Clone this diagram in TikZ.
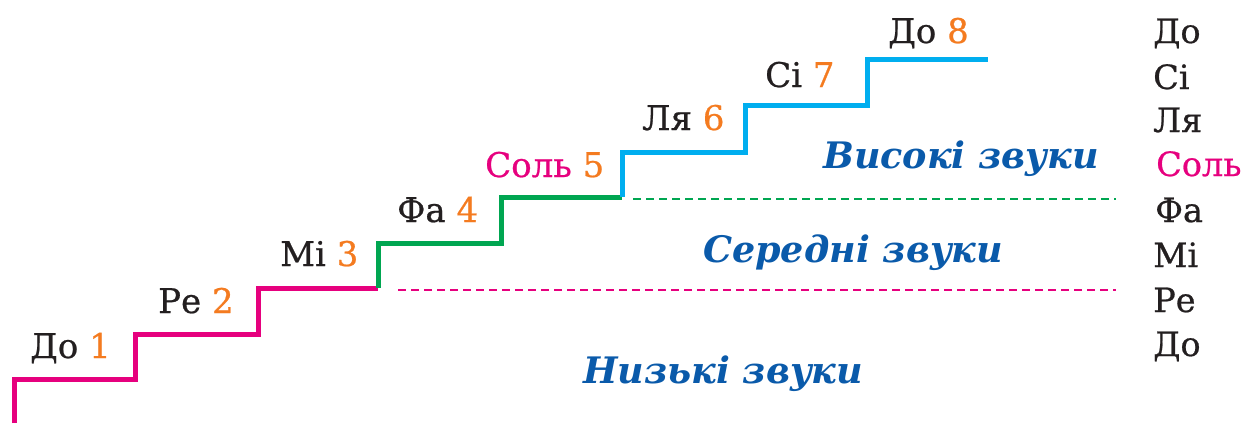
\documentclass[tikz,border=0pt]{standalone}
\usepackage{fontspec}
\setmainfont{DejaVu Serif}
\newfontfamily\heavyserif[FakeBold=0.7]{DejaVu Serif}
\definecolor{cpink}{HTML}{E6007E}
\definecolor{cgreen}{HTML}{00A651}
\definecolor{cblue}{HTML}{00AEEF}
\definecolor{corange}{HTML}{F47B20}
\definecolor{ctext}{HTML}{0A5AAA}
\definecolor{cdark}{HTML}{231F20}
\tikzset{
  stair/.style={line width=5pt, line join=miter},
  guide/.style={line width=2pt, dash pattern=on 8pt off 5pt},
  notelbl/.style={anchor=base west, inner sep=0pt, font=\heavyserif\fontsize{34}{34}\selectfont, text=cdark},
  scalelbl/.style={anchor=base west, inner sep=0pt, font=\heavyserif\fontsize{33.5}{33.5}\selectfont, text=cdark},
  zonelbl/.style={anchor=base west, inner sep=0pt, font=\fontsize{36.5}{36.5}\selectfont\bfseries\itshape, text=ctext},
}
\newcommand{\nm}[1]{\textcolor{corange}{#1}}
\begin{document}
\begin{tikzpicture}[x=1pt,y=-1pt]
\useasboundingbox (0,0) rectangle (1246,423);
% stair corners
\coordinate (b0) at (14,423);
\coordinate (p1) at (14,379);  \coordinate (q1) at (135,379);
\coordinate (p2) at (135,334); \coordinate (q2) at (258,334);
\coordinate (p3) at (258,288); \coordinate (q3) at (378,288);
\coordinate (p4) at (378,243); \coordinate (q4) at (501,243);
\coordinate (p5) at (501,197); \coordinate (q5) at (622,197);
\coordinate (p6) at (622,152); \coordinate (q6) at (745,152);
\coordinate (p7) at (745,105); \coordinate (q7) at (867,105);
\coordinate (p8) at (867,59);  \coordinate (q8) at (988,59);
\draw[stair, cpink] (b0) -- (p1) -- (q1) -- (p2) -- (q2) -- (p3) -- (q3);
\draw[stair, cgreen] (q3) -- (p4) -- (q4) -- (p5) -- (q5);
\draw[stair, cblue] (q5) -- (p6) -- (q6) -- (p7) -- (q7) -- (p8) -- (q8);
% guide lines
\coordinate (g1a) at (398,290); \coordinate (g1b) at (1116,290);
\coordinate (g2a) at (633,199); \coordinate (g2b) at (1116,199);
\draw[guide, cpink] (g1a) -- (g1b);
\draw[guide, cgreen] (g2a) -- (g2b);
% step labels
\node[notelbl] (n1) at (30,358) {До \nm{1}};
\node[notelbl] (n2) at (158,313) {Ре \nm{2}};
\node[notelbl] (n3) at (280,266) {Мі \nm{3}};
\node[notelbl] (n4) at (397,222) {Фа \nm{4}};
\node[notelbl] (n5) at (485,177) {\textcolor{cpink}{Соль} \nm{5}};
\node[notelbl] (n6) at (642,130) {Ля \nm{6}};
\node[notelbl] (n7) at (765,87) {Сі \nm{7}};
\node[notelbl] (n8) at (888,43) {До \nm{8}};
% right scale
\node[scalelbl] (r8) at (1153,43) {До};
\node[scalelbl] (r7) at (1153,89) {Сі};
\node[scalelbl] (r6) at (1153,132) {Ля};
\node[scalelbl, text=cpink] (r5) at (1156,176) {Соль};
\node[scalelbl] (r4) at (1155,222) {Фа};
\node[scalelbl] (r3) at (1153,267) {Мі};
\node[scalelbl] (r2) at (1153,312) {Ре};
\node[scalelbl] (r1) at (1153,356) {До};
% zone labels
\node[zonelbl] (zh) at (823,168) {Високі звуки};
\node[zonelbl] (zm) at (703,262) {Середні звуки};
\node[zonelbl] (zl) at (583,383) {Низькі звуки};
\end{tikzpicture}
\end{document}
